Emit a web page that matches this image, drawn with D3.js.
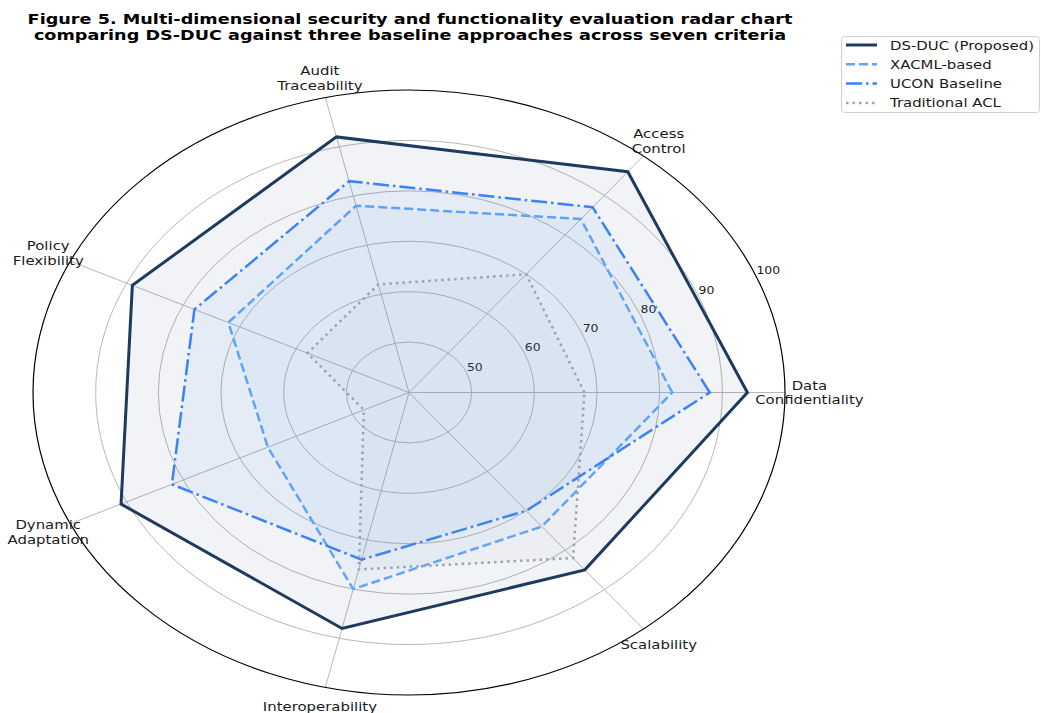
<!DOCTYPE html>
<html lang="en">
<head>
<meta charset="utf-8">
<style>
  body { margin: 0; background: #fff; }
  svg { font-family: "DejaVu Sans", sans-serif; }
  .title { font-weight: bold; font-size: 14.2px; fill: #000; }
  .axis-label { font-size: 12px; fill: #1a1a1a; }
  .rtick { font-size: 10px; fill: #1a1a1a; }
  .legend text { font-size: 12px; fill: #1a1a1a; }
</style>
<script src="https://d3js.org/d3.v7.min.js"></script>
</head>
<body>
<script>
  let categories = ["Data\nConfidentiality", "Access\nControl", "Audit\nTraceability",
    "Policy\nFlexibility", "Dynamic\nAdaptation", "Interoperability", "Scalability"];
  let seriesNames = ["DS-DUC (Proposed)", "XACML-based", "UCON Baseline", "Traditional ACL"];
  let dsduc = [94, 96, 92, 89, 91, 88, 85];
  let xacml = [82, 84, 78, 72, 65, 80, 74];
  let ucon = [88, 87, 83, 78, 82, 74, 70];
  let acl = [68, 70, 62, 58, 48, 76, 82];
  let rTicks = [50, 60, 70, 80, 90, 100];

  let width = 1041, height = 713;
  let cx = 409, cy = 392.5, rx = 376, ry = 302.5;
  // the figure is stretched sideways, text too
  let stretch = rx / ry;

  let series = [
    { name: seriesNames[0], values: dsduc, color: "#1e3a5f", width: 3, dash: null, alpha: 0.06 },
    { name: seriesNames[1], values: xacml, color: "#60a5fa", width: 2.5, dash: "9,4", alpha: 0.06 },
    { name: seriesNames[2], values: ucon, color: "#3b82f6", width: 2.5, dash: "16,4,2.5,4", alpha: 0.06 },
    { name: seriesNames[3], values: acl, color: "#9ca3af", width: 2.5, dash: "2.5,4", alpha: 0.06 }
  ];

  let svg = d3.select("body").append("svg")
    .attr("width", width)
    .attr("height", height);

  let tr = (x, y) => "translate(" + x + "," + y + ") scale(" + stretch + ",1)";

  // radial scale (normalised 0..1), angle scale per category
  let r = d3.scaleLinear().domain([40, 100]).range([0, 1]);
  let angle = d3.scaleLinear().domain([0, categories.length]).range([0, 2 * Math.PI]);

  let px = (v, i) => cx + rx * r(v) * Math.cos(angle(i));
  let py = (v, i) => cy - ry * r(v) * Math.sin(angle(i));

  // grid rings
  svg.append("g").selectAll("ellipse")
    .data(rTicks.slice(0, -1))
    .join("ellipse")
    .attr("cx", cx).attr("cy", cy)
    .attr("rx", d => rx * r(d)).attr("ry", d => ry * r(d))
    .style("fill", "none")
    .style("stroke", "#b8b8b8")
    .style("stroke-width", 1);

  // spokes
  svg.append("g").selectAll("line")
    .data(categories)
    .join("line")
    .attr("x1", cx).attr("y1", cy)
    .attr("x2", (d, i) => px(100, i))
    .attr("y2", (d, i) => py(100, i))
    .style("stroke", "#b8b8b8")
    .style("stroke-width", 1);

  // outer spine
  svg.append("ellipse")
    .attr("cx", cx).attr("cy", cy)
    .attr("rx", rx).attr("ry", ry)
    .style("fill", "none")
    .style("stroke", "#000")
    .style("stroke-width", 1.2);

  // radial tick labels at 22.5 degrees
  let la = 22.5 * Math.PI / 180;
  svg.append("g").selectAll("text")
    .data(rTicks)
    .join("text")
    .attr("class", "rtick")
    .attr("transform", d => tr(cx + rx * r(d) * Math.cos(la), cy - ry * r(d) * Math.sin(la) - 2.5))
    .text(d => d);

  let line = d3.line()
    .x(d => px(d.v, d.i))
    .y(d => py(d.v, d.i))
    .curve(d3.curveLinearClosed);

  series.forEach(s => {
    let pts = s.values.map((v, i) => ({ v: v, i: i }));
    svg.append("path")
      .attr("d", line(pts))
      .style("fill", s.color)
      .style("fill-opacity", s.alpha)
      .style("stroke", "none");
    svg.append("path")
      .attr("d", line(pts))
      .style("fill", "none")
      .style("stroke", s.color)
      .style("stroke-width", s.width)
      .style("stroke-dasharray", s.dash)
      .style("stroke-linejoin", "miter");
  });

  // category labels
  let lab = svg.append("g").selectAll("text")
    .data(categories)
    .join("text")
    .attr("class", "axis-label")
    .attr("text-anchor", "middle")
    .attr("transform", (d, i) => tr(cx + rx * 1.065 * Math.cos(angle(i)),
      cy - ry * 1.065 * Math.sin(angle(i))));
  lab.each(function(d) {
    let lines = d.split("\n");
    let t = d3.select(this);
    lines.forEach((l, k) => {
      t.append("tspan")
        .attr("x", 0)
        .attr("y", (k - (lines.length - 1) / 2) * 15 + 4.5)
        .text(l);
    });
  });

  // title
  let title = ["Figure 5. Multi-dimensional security and functionality evaluation radar chart",
    "comparing DS-DUC against three baseline approaches across seven criteria"];
  svg.append("g").selectAll("text")
    .data(title)
    .join("text")
    .attr("class", "title")
    .attr("text-anchor", "middle")
    .attr("transform", (d, i) => tr(410, 23.5 + i * 16.5))
    .text(d => d);

  // legend
  let legend = svg.append("g").attr("class", "legend");
  legend.append("rect")
    .attr("x", 841.5).attr("y", 36.5)
    .attr("width", 198).attr("height", 76)
    .attr("rx", 3)
    .style("fill", "#fff")
    .style("stroke", "#d0d0d0");
  let row = legend.selectAll("g.row")
    .data(series)
    .join("g")
    .attr("class", "row")
    .attr("transform", (d, i) => "translate(0," + (45 + i * 19.3) + ")");
  row.append("line")
    .attr("x1", 846).attr("x2", 877)
    .style("stroke", d => d.color)
    .style("stroke-width", d => d.width)
    .style("stroke-dasharray", d => d.dash);
  row.append("text")
    .attr("transform", tr(890, 4.5))
    .text(d => d.name);
</script>
</body>
</html>
